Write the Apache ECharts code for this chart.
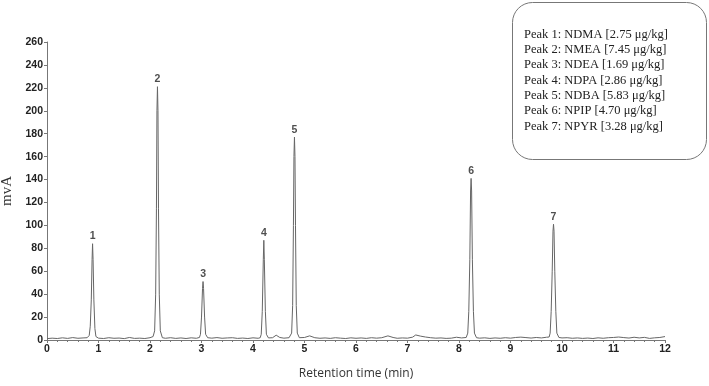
<!DOCTYPE html>
<html>
<head>
<meta charset="utf-8">
<script src="https://cdn.jsdelivr.net/npm/echarts@6/dist/echarts.min.js"></script>
<style>
  html, body { margin: 0; padding: 0; background: #fff; }
  #chart { width: 709px; height: 386px; }
</style>
</head>
<body>
<div id="chart"></div>
<script>
// chromatogram trace [retention time (min), signal (mvA)]
const trace = [
  [0, 1.2], [0.1, 1.6], [0.2, 1.3], [0.3, 1.9], [0.4, 1.4], [0.5, 2.1], [0.6, 1.5], [0.7, 1.8], [0.78, 2],
  [0.82, 4], [0.84, 12], [0.86, 35], [0.875, 70], [0.885, 84], [0.895, 70], [0.91, 35], [0.93, 10], [0.95, 3],
  [1.0, 1.6], [1.1, 1.3], [1.2, 2], [1.3, 1.5], [1.4, 1.7], [1.5, 1.2], [1.6, 2.2], [1.7, 1.4], [1.8, 1.6], [1.9, 1.3], [2.0, 2], [2.06, 3],
  [2.09, 8], [2.11, 40], [2.125, 115], [2.135, 200], [2.145, 221], [2.155, 200], [2.165, 115], [2.18, 40], [2.2, 8], [2.24, 2],
  [2.3, 1.5], [2.4, 2], [2.5, 1.4], [2.6, 1.8], [2.7, 1.3], [2.8, 1.9], [2.9, 1.5], [2.96, 2.2],
  [2.98, 5], [3.0, 20], [3.02, 45], [3.03, 51], [3.04, 45], [3.06, 20], [3.08, 5], [3.12, 2],
  [3.2, 1.6], [3.3, 2.1], [3.4, 1.5], [3.5, 1.8], [3.6, 2], [3.7, 1.4], [3.8, 1.7], [3.9, 1.3], [4.0, 1.9], [4.1, 1.5], [4.14, 2],
  [4.16, 5], [4.18, 25], [4.2, 70], [4.21, 87], [4.22, 70], [4.24, 25], [4.26, 5], [4.3, 1.8],
  [4.38, 2], [4.45, 4.2], [4.52, 2.2], [4.6, 1.6], [4.7, 2], [4.73, 2.5],
  [4.75, 6], [4.77, 30], [4.785, 100], [4.795, 160], [4.805, 177], [4.815, 160], [4.825, 100], [4.84, 30], [4.86, 6], [4.9, 2],
  [5.0, 2.2], [5.1, 3.6], [5.2, 2], [5.3, 1.5], [5.4, 1.8], [5.5, 1.4], [5.6, 2], [5.7, 1.6], [5.8, 1.3], [5.9, 1.9], [6.0, 1.5],
  [6.1, 1.8], [6.2, 1.4], [6.3, 2], [6.4, 1.6], [6.5, 2], [6.62, 3.6], [6.72, 2.2], [6.8, 1.5], [6.9, 1.8], [7.0, 1.6],
  [7.1, 2.5], [7.16, 4.4], [7.25, 3.4], [7.35, 2.6], [7.45, 2], [7.55, 1.6], [7.65, 1.8], [7.75, 1.4], [7.85, 1.6], [7.95, 2.4], [8.05, 1.8], [8.14, 2.2],
  [8.17, 6], [8.19, 25], [8.21, 70], [8.225, 130], [8.235, 141], [8.245, 130], [8.26, 70], [8.28, 25], [8.3, 6], [8.34, 2],
  [8.4, 1.6], [8.5, 1.9], [8.6, 1.4], [8.7, 1.8], [8.8, 1.5], [8.9, 2], [9.0, 1.6], [9.1, 2.2], [9.2, 2.5], [9.3, 2.1],
  [9.4, 1.7], [9.5, 2.2], [9.6, 1.8], [9.7, 2.4], [9.75, 2.6],
  [9.77, 6], [9.79, 25], [9.81, 60], [9.825, 95], [9.835, 101], [9.845, 95], [9.86, 60], [9.88, 25], [9.9, 6], [9.94, 2.2],
  [10.0, 1.8], [10.1, 2], [10.2, 1.5], [10.3, 1.8], [10.4, 1.4], [10.5, 1.7], [10.6, 1.3], [10.7, 1.9], [10.8, 1.5], [10.9, 2],
  [11.0, 2.2], [11.1, 2.6], [11.2, 2.1], [11.3, 1.7], [11.4, 2.4], [11.5, 1.8], [11.6, 2.3], [11.7, 1.4], [11.8, 1.9], [11.9, 2.2], [12.0, 3]
]

// peak apex positions and numbers
const peakTimes = [0.885, 2.145, 3.03, 4.21, 4.805, 8.235, 9.835]
const peakHeights = [84, 221, 51, 87, 177, 141, 101]
const peakNames = ['1', '2', '3', '4', '5', '6', '7']

// legend box lines
const legendLines = [
  'Peak 1: NDMA [2.75 μg/kg]',
  'Peak 2: NMEA [7.45 μg/kg]',
  'Peak 3: NDEA [1.69 μg/kg]',
  'Peak 4: NDPA [2.86 μg/kg]',
  'Peak 5: NDBA [5.83 μg/kg]',
  'Peak 6: NPIP [4.70 μg/kg]',
  'Peak 7: NPYR [3.28 μg/kg]'
]

const chart = echarts.init(document.getElementById('chart'))

const tickFont = {
  fontFamily: 'Liberation Sans Narrow, Liberation Sans, Arial',
  fontWeight: 'bold',
  fontSize: 10.5,
  color: '#222'
}

const option = {
  backgroundColor: '#fff',
  animation: false,
  grid: { left: 47, right: 44, top: 42, bottom: 46, outerBoundsMode: 'none' },
  xAxis: {
    type: 'value',
    min: 0,
    max: 12,
    interval: 1,
    name: 'Retention time (min)',
    nameLocation: 'middle',
    nameGap: 28,
    nameTextStyle: { fontFamily: 'Open Sans, Noto Sans, sans-serif', fontSize: 12, color: '#333' },
    axisLine: { lineStyle: { color: '#777', width: 1 } },
    axisTick: { length: 3, lineStyle: { color: '#777' } },
    minorTick: { show: true, splitNumber: 5, length: 2, lineStyle: { color: '#777' } },
    axisLabel: Object.assign({ margin: 4 }, tickFont),
    splitLine: { show: false }
  },
  yAxis: {
    type: 'value',
    min: 0,
    max: 260,
    interval: 20,
    name: 'mvA',
    nameLocation: 'middle',
    nameGap: 31,
    nameTextStyle: { fontFamily: 'Liberation Serif, Times New Roman, serif', fontSize: 15, color: '#333' },
    axisLine: { show: true, lineStyle: { color: '#777', width: 1 } },
    axisTick: { show: true, length: 3, lineStyle: { color: '#777' } },
    axisLabel: Object.assign({ margin: 4 }, tickFont),
    splitLine: { show: false }
  },
  series: [
    {
      type: 'line',
      data: trace,
      showSymbol: false,
      lineStyle: { color: '#666', width: 1 },
      silent: true
    },
    {
      type: 'scatter',
      data: peakTimes.map((t, i) => [t, peakHeights[i], peakNames[i]]),
      symbolSize: 0,
      silent: true,
      label: {
        show: true,
        position: 'top',
        distance: 2,
        formatter: p => p.data[2],
        fontFamily: 'Liberation Sans Narrow, Liberation Sans, Arial',
        fontWeight: 'bold',
        fontSize: 10.5,
        color: '#222'
      }
    }
  ],
  graphic: [
    {
      type: 'rect',
      left: 512,
      top: 2,
      shape: { width: 194, height: 157, r: 20 },
      style: { fill: '#fff', stroke: '#777', lineWidth: 1 }
    },
    ...legendLines.map((s, i) => ({
      type: 'text',
      left: 524,
      top: 28 + i * 15.3,
      style: {
        text: s,
        fill: '#222',
        font: '12.5px "Liberation Serif", "Times New Roman", serif'
      }
    }))
  ]
}

chart.setOption(option)
</script>
</body>
</html>
